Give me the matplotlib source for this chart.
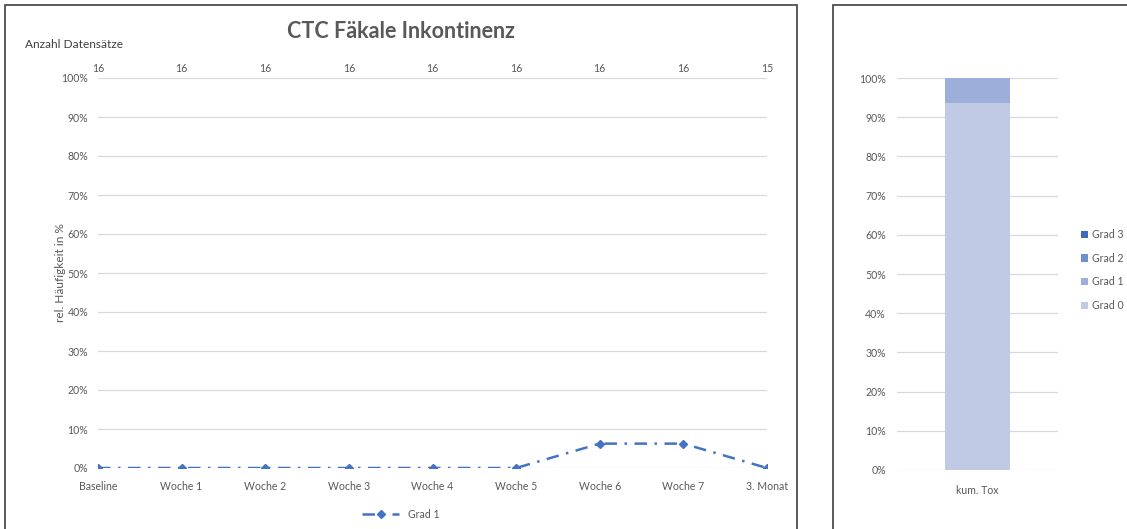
import matplotlib
matplotlib.use("Agg")
import matplotlib.pyplot as plt
from matplotlib.patches import Rectangle
from matplotlib.lines import Line2D
from matplotlib.patches import Patch
import matplotlib.transforms as mtransforms

plt.rcParams['font.family'] = ['Lato', 'DejaVu Sans']

categories = ["Baseline", "Woche 1", "Woche 2", "Woche 3", "Woche 4", "Woche 5", "Woche 6", "Woche 7", "3. Monat"]
counts = [16, 16, 16, 16, 16, 16, 16, 16, 15]
grad1 = [0.0, 0.0, 0.0, 0.0, 0.0, 0.0, 6.25, 6.25, 0.0]

cum_label = ["kum. Tox"]
cum_grades = ["Grad 0", "Grad 1", "Grad 2", "Grad 3"]
cum_values = [93.75, 6.25, 0.0, 0.0]

text_col = "#595959"
grid_col = "#D9D9D9"
line_col = "#4472C4"
grade_cols = ["#C0CAE5", "#9DAEDB", "#6F8FD0", "#3F68BC"]

W, H = 1127, 529
fig = plt.figure(figsize=(W / 100, H / 100), dpi=100)

# panel frames
fig.patches.append(Rectangle((5 / W, -0.05), (797 - 5) / W, 1 - 5 / H + 0.05,
                             transform=fig.transFigure, fill=False, edgecolor="#404040", lw=1.2))
fig.patches.append(Rectangle((833 / W, -0.05), (1130 - 833) / W, 1 - 5 / H + 0.05,
                             transform=fig.transFigure, fill=False, edgecolor="#404040", lw=1.2))

fs = 7.6
dash = (5, 3, 1, 3)

# ---------- left line chart ----------
ax = fig.add_axes([98 / W, 1 - 468 / H, (767 - 98) / W, 390 / H])
x = list(range(len(categories)))
ax.plot(x, grad1, color=line_col, lw=1.8, dashes=dash, marker="D", markersize=4.5,
        markeredgecolor=line_col, markerfacecolor=line_col)
ax.set_xlim(0, len(categories) - 1)
ax.set_ylim(0, 100)
ax.set_yticks(range(0, 101, 10))
ax.set_yticklabels([f"{v}%" for v in range(0, 101, 10)])
ax.set_xticks(x)
ax.set_xticklabels(categories)
ax.tick_params(axis="both", length=0, labelsize=fs, colors=text_col)
ax.tick_params(axis="y", pad=7)
ax.tick_params(axis="x", pad=9)
for s in ax.spines.values():
    s.set_visible(False)
ax.grid(axis="y", color=grid_col, lw=0.9)
ax.set_axisbelow(True)
ax.set_ylabel("rel. Häufigkeit in %", fontsize=8.6, color=text_col)
ax.yaxis.set_label_coords(-0.048, 0.5)
trans = mtransforms.blended_transform_factory(ax.transData, ax.transAxes)
for xi, c in zip(x, counts):
    ax.text(xi, (468 - 68) / 390, str(c), transform=trans, ha="center", va="center",
            fontsize=fs, color=text_col)
fig.text(25 / W, 1 - 45 / H, "Anzahl Datensätze", fontsize=8.6, color="#404040", va="center")
fig.text(401 / W, 1 - 32 / H, "CTC Fäkale Inkontinenz", fontsize=15.5, fontweight="bold",
         color=text_col, ha="center", va="center")
leg = ax.legend(handles=[Line2D([0], [0], color=line_col, lw=1.8, dashes=dash, marker="D",
                                markersize=4.5)],
                labels=["Grad 1"], loc="center", bbox_to_anchor=(401 / W, 1 - 514 / H),
                bbox_transform=fig.transFigure, frameon=False, fontsize=fs, handlelength=3.5)
for t in leg.get_texts():
    t.set_color(text_col)

# ---------- right stacked bar ----------
ax2 = fig.add_axes([897 / W, 1 - 470 / H, (1058 - 897) / W, 392 / H])
bottom = 0.0
handles = []
for g, v, col in zip(cum_grades, cum_values, grade_cols):
    ax2.bar(cum_label, [v], bottom=[bottom], width=0.4, color=col, edgecolor="none")
    bottom += v
    handles.append(Patch(facecolor=col, edgecolor="none", label=g))
ax2.set_xlim(-0.5, 0.5)
ax2.set_ylim(0, 100)
ax2.set_yticks(range(0, 101, 10))
ax2.set_yticklabels([f"{v}%" for v in range(0, 101, 10)])
ax2.tick_params(axis="both", length=0, labelsize=fs, colors=text_col)
ax2.tick_params(axis="y", pad=8)
ax2.tick_params(axis="x", pad=11)
for s in ax2.spines.values():
    s.set_visible(False)
ax2.grid(axis="y", color=grid_col, lw=0.9)
ax2.set_axisbelow(True)
leg2 = ax2.legend(handles=handles[::-1], loc="center left", bbox_to_anchor=(1071 / W, 1 - 270 / H),
                  bbox_transform=fig.transFigure, frameon=False, fontsize=fs,
                  handlelength=0.7, handleheight=0.7, handletextpad=0.4, labelspacing=1.2)
for t in leg2.get_texts():
    t.set_color(text_col)

fig.savefig("out.png", dpi=100)
